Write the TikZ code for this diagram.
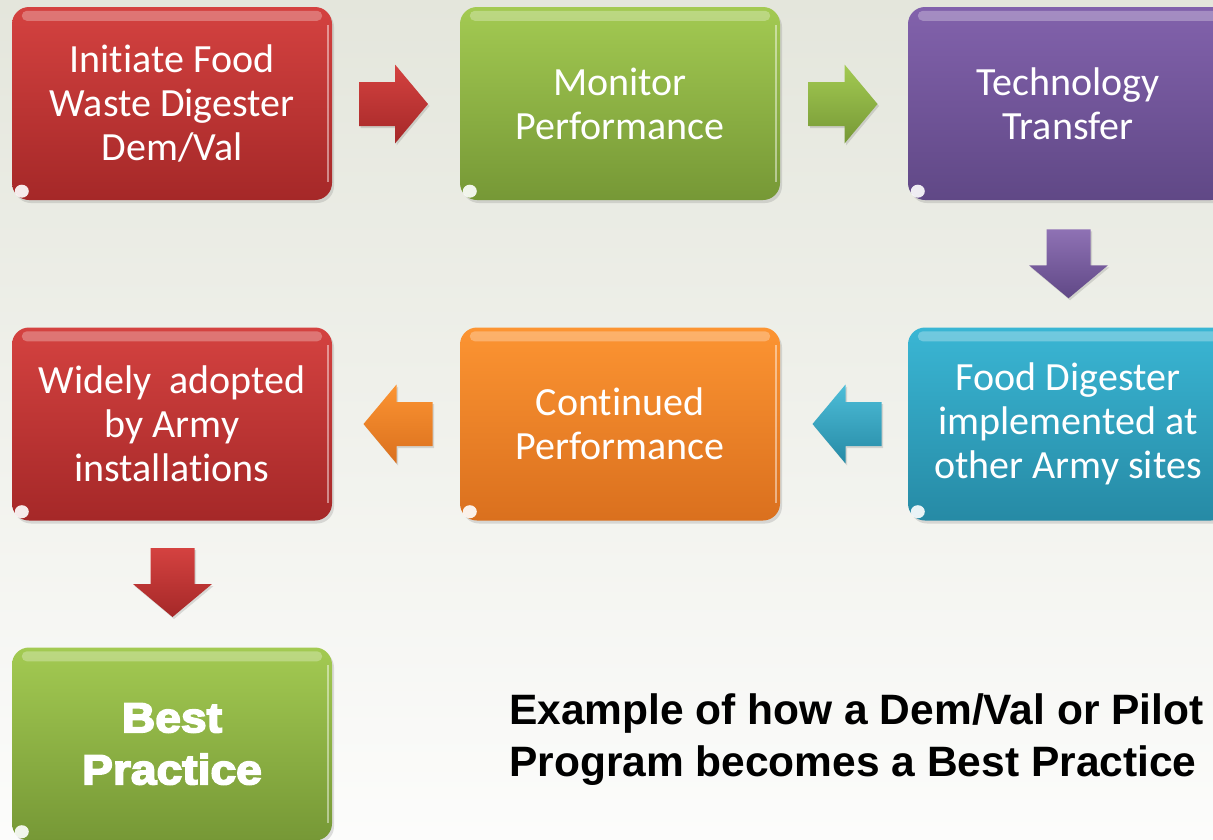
\documentclass[tikz,border=0pt]{standalone}
\usepackage{fontspec}
\setmainfont{Carlito}[Ligatures={NoCommon}]
\newfontfamily\capfont{Liberation Sans}
\newfontfamily\blackfont[FakeBold=4,FakeStretch=1.1]{Liberation Sans Bold}
\usetikzlibrary{shadows,calc}
\definecolor{bgtop}{RGB}{228,230,220}
\definecolor{bgbot}{RGB}{252,252,251}
\definecolor{redT}{RGB}{212,66,64}
\definecolor{redB}{RGB}{165,40,40}
\definecolor{grnT}{RGB}{163,202,82}
\definecolor{grnB}{RGB}{118,152,54}
\definecolor{purT}{RGB}{130,98,172}
\definecolor{purB}{RGB}{96,72,134}
\definecolor{bluT}{RGB}{58,182,212}
\definecolor{bluB}{RGB}{38,138,165}
\definecolor{orgT}{RGB}{252,148,50}
\definecolor{orgB}{RGB}{218,112,30}
\tikzset{
  card/.style={rectangle, rounded corners=17pt, minimum width=320pt, minimum height=193pt,
    inner sep=0pt, text=white, align=center, font=\fontsize{40}{44}\selectfont,
    drop shadow={opacity=0.25,shadow xshift=2pt,shadow yshift=-3pt}},
  shine/.style={white, opacity=0.28, rounded corners=5pt},
  edgeline/.style={white, opacity=0.45, line width=1.5pt},
  glintdot/.style={white, opacity=0.9},
  arrowshadow/.style={black, opacity=0.12}
}
\newcommand\cardgloss[1]{%
  \fill[shine] ([shift={(10,4)}]#1.north west) rectangle ([shift={(-10,14)}]#1.north east);
  \draw[edgeline] ([shift={(-4,18)}]#1.north east) -- ([shift={(-4,-18)}]#1.south east);
  \fill[glintdot] ([shift={(10,-9)}]#1.south west) ellipse[x radius=7, y radius=6.5];
}
% block arrow centred on a named coordinate, pointing along the given angle
\newcommand\blockarrow[4]{%
  \fill[arrowshadow, shift={(#1)}, xshift=1.5pt, yshift=-2pt, rotate=#2]
    (-34.5,-22) -- (1.5,-22) -- (1.5,-39.5) -- (34.5,0) -- (1.5,39.5) -- (1.5,22) -- (-34.5,22) -- cycle;
  \shade[top color=#3, bottom color=#4, shift={(#1)}, rotate=#2]
    (-34.5,-22) -- (1.5,-22) -- (1.5,-39.5) -- (34.5,0) -- (1.5,39.5) -- (1.5,22) -- (-34.5,22) -- cycle;
}
\begin{document}
\begin{tikzpicture}[x=1pt,y=-1pt]
\useasboundingbox (0,0) rectangle (1213,839);
\shade[top color=bgtop, bottom color=bgbot] (0,0) rectangle (1213,839);

% row 1
\node[card, top color=redT, bottom color=redB] (b1) at (172,103.5) {Initiate Food\\Waste Digester\\Dem/Val};
\node[card, top color=grnT, bottom color=grnB] (b2) at (620,103.5) {Monitor\\Performance};
\node[card, top color=purT, bottom color=purB] (b3) at (1068,103.5) {Technology\\Transfer};
% row 2
\node[card, top color=bluT, bottom color=bluB] (b6) at (1068,424) {Food Digester\\implemented at\\other Army sites};
\node[card, top color=orgT, bottom color=orgB] (b5) at (620,424) {Continued\\Performance};
\node[card, top color=redT, bottom color=redB] (b4) at (172,424) {Widely\ \ adopted\\by Army\\installations};
% row 3
\node[card, top color=grnT, bottom color=grnB, font=\blackfont\fontsize{42}{52}\selectfont] (b7) at (172,744) {Best\\Practice};

\cardgloss{b1}\cardgloss{b2}\cardgloss{b3}\cardgloss{b4}\cardgloss{b5}\cardgloss{b6}\cardgloss{b7}

% block arrows between the boxes
\coordinate (a12) at ($(b1.east)!0.5!(b2.west)+(-2.5,0.5)$);
\coordinate (a23) at ($(b2.east)!0.5!(b3.west)+(-1,0.5)$);
\coordinate (a36) at ($(b3.south)!0.5!(b6.north)+(0.5,0)$);
\coordinate (a65) at ($(b6.west)!0.5!(b5.east)+(3,0)$);
\coordinate (a54) at ($(b5.west)!0.5!(b4.east)+(2,0)$);
\coordinate (a47) at ($(b4.south)!0.5!(b7.north)+(0.5,-1.5)$);
\blockarrow{a12}{0}{redT}{redB}
\blockarrow{a23}{0}{grnT}{grnB}
\blockarrow{a36}{-90}{purT!90!white}{purB}
\blockarrow{a65}{180}{bluT!90!white}{bluB}
\blockarrow{a54}{180}{orgT}{orgB}
\blockarrow{a47}{-90}{redT}{redB}

% caption
\node[anchor=west, align=left, inner sep=0pt, font=\capfont\bfseries\fontsize{42.5}{52}\selectfont] (cap) at (509,740)
  {Example of how a Dem/Val or Pilot\\Program becomes a Best Practice};
\end{tikzpicture}
\end{document}
